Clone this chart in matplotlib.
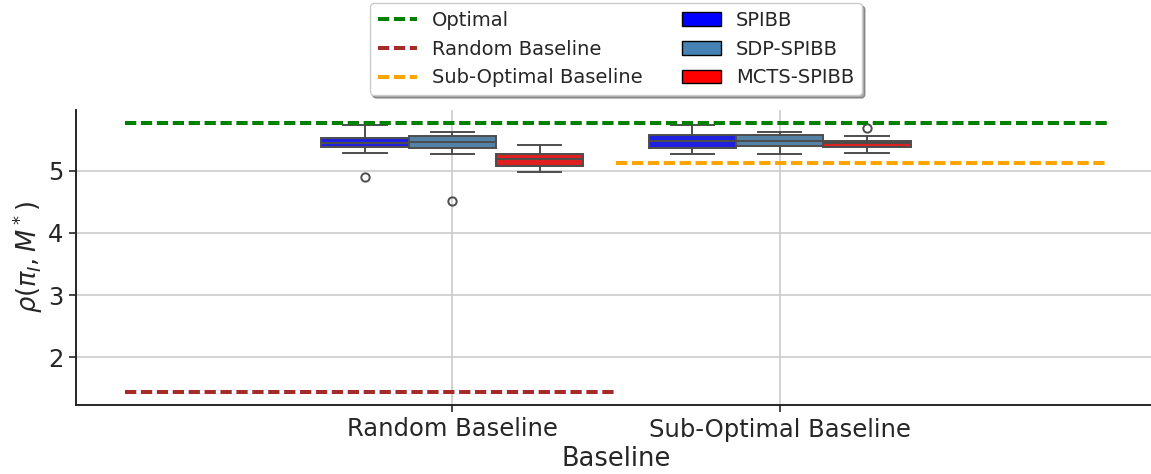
import colorsys
import numpy as np
import matplotlib
matplotlib.use("Agg")
import matplotlib.pyplot as plt
from matplotlib.lines import Line2D
from matplotlib.patches import Patch


baselines = ["Random Baseline", "Sub-Optimal Baseline"]
methods = ["SPIBB", "SDP-SPIBB", "MCTS-SPIBB"]
method_colors = ["blue", "steelblue", "red"]

# box statistics per baseline, one entry per method
whislo = [[5.28, 5.27, 4.98], [5.26, 5.27, 5.28]]
q1 = [[5.38, 5.37, 5.08], [5.36, 5.39, 5.38]]
med = [[5.45, 5.46, 5.19], [5.48, 5.47, 5.44]]
q3 = [[5.53, 5.56, 5.27], [5.58, 5.57, 5.48]]
whishi = [[5.73, 5.62, 5.41], [5.74, 5.62, 5.56]]
fliers = [[[4.90], [4.52], []], [[], [], [5.68]]]

# reference returns of the fixed policies
optimal = 5.76
random_baseline = 1.45
suboptimal_baseline = 5.13


def desaturate(color, prop=0.75):
    r, g, b = matplotlib.colors.to_rgb(color)
    h, l, s = colorsys.rgb_to_hls(r, g, b)
    return colorsys.hls_to_rgb(h, l, s * prop)


plt.rcParams["font.family"] = "DejaVu Sans"
text_col = "0.15"

fig = plt.figure(figsize=(11.51, 4.74), dpi=100)
ax = fig.add_axes([76 / 1151, 69 / 474, 1080 / 1151, 295 / 474])

box_w = 0.8 / len(methods)
line_col = "0.3"
for i, b in enumerate(baselines):
    for j, m in enumerate(methods):
        pos = i + (j - 1) * box_w
        stats = [dict(whislo=whislo[i][j], q1=q1[i][j], med=med[i][j],
                      q3=q3[i][j], whishi=whishi[i][j], fliers=fliers[i][j])]
        ax.bxp(stats, positions=[pos], widths=box_w, capwidths=box_w * 0.5,
               patch_artist=True, manage_ticks=False,
               boxprops=dict(facecolor=desaturate(method_colors[j]),
                             edgecolor=line_col, linewidth=1.4),
               medianprops=dict(color=line_col, linewidth=1.4),
               whiskerprops=dict(color=line_col, linewidth=1.4),
               capprops=dict(color=line_col, linewidth=1.4),
               flierprops=dict(marker="o", markerfacecolor="none",
                               markeredgecolor=line_col, markersize=6,
                               markeredgewidth=1.4))

dash = (2.8, 1.15)
ax.hlines(optimal, -1, 2, colors="green", linestyles=(0, dash), linewidth=2.9, zorder=3)
ax.hlines(random_baseline, -1, 0.5, colors="brown", linestyles=(0, dash), linewidth=2.9, zorder=3)
ax.hlines(suboptimal_baseline, 0.5, 2, colors="orange", linestyles=(0, dash), linewidth=2.9, zorder=3)

ax.set_xlim(-1.15, 2.15)
ax.set_ylim(1.235, 5.975)
ax.set_xticks(range(len(baselines)))
ax.set_xticklabels(baselines)
ax.set_yticks([2, 3, 4, 5])
ax.grid(True, color="0.8", linewidth=1.2)
ax.set_axisbelow(True)
for side in ["top", "right"]:
    ax.spines[side].set_visible(False)
for side in ["left", "bottom"]:
    ax.spines[side].set_color(text_col)
    ax.spines[side].set_linewidth(1.4)
ax.tick_params(colors=text_col, labelsize=17.5, width=1.2, length=5, pad=4)
ax.set_xlabel("Baseline", fontsize=18.5, color=text_col, labelpad=3)
ax.set_ylabel(r"$\rho(\pi_I, M^*)$", fontsize=18.5, color=text_col, labelpad=2)

handles = [
    Line2D([], [], color="green", linestyle=(0, dash), linewidth=2.9),
    Line2D([], [], color="brown", linestyle=(0, dash), linewidth=2.9),
    Line2D([], [], color="orange", linestyle=(0, dash), linewidth=2.9),
]
handles += [Patch(facecolor=c, edgecolor="black") for c in method_colors]
labels = ["Optimal", "Random Baseline", "Sub-Optimal Baseline"] + methods
leg = ax.legend(handles, labels, ncol=2, loc="lower center",
                bbox_to_anchor=(0.5, 1.05), fontsize=14, shadow=True,
                frameon=True, columnspacing=2, labelcolor=text_col,
                borderaxespad=0)

fig.savefig("out.png", dpi=100)
